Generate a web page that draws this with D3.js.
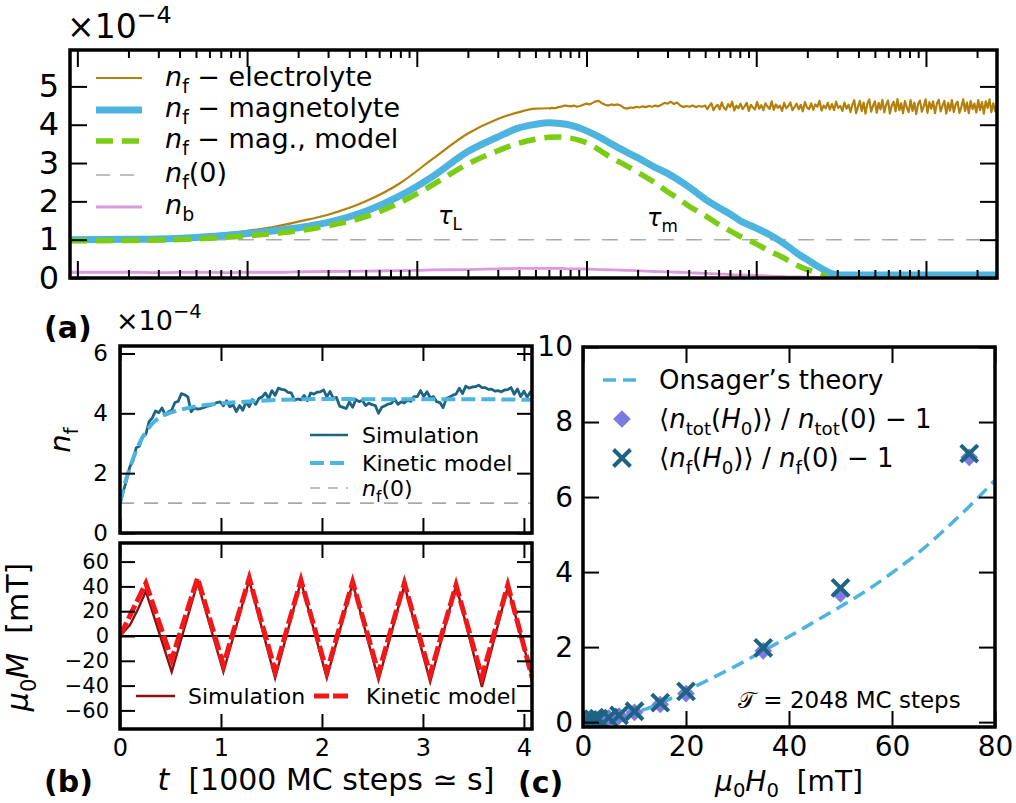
<!DOCTYPE html>
<html>
<head>
<meta charset="utf-8">
<script src="https://cdn.jsdelivr.net/npm/d3@7"></script>
<style>
  body { margin: 0; background: #fff; }
  svg { font-family: "DejaVu Sans", sans-serif; }
  text { white-space: pre; }
</style>
</head>
<body>
<svg id="fig" width="1016" height="803"></svg>
<script>
// ---------------- panel (a): free / bound densities vs. time (log) ----------------
// time samples in MC steps
const tA = [0.905, 2, 3, 5, 8, 10, 15, 20, 30, 50, 80, 125, 200, 300, 400, 500, 600, 700, 800, 900,
  1000, 1200, 1400, 1700, 2000, 2500, 3000, 3500, 4000, 5000, 6000, 7000, 8000, 10000, 12000, 14000,
  16000, 18000, 20000, 22000, 24000, 26000, 28000, 30000, 35000, 40000, 60000, 100000, 160000, 262144];
// n_f, magnetolyte (x1e-4)
const nfMagneto = [1.0, 1.01, 1.02, 1.06, 1.12, 1.16, 1.24, 1.31, 1.45, 1.74, 2.15, 2.66, 3.3, 3.68, 3.92, 4.01, 4.05, 4.03, 3.99, 3.92,
  3.84, 3.67, 3.5, 3.3, 3.14, 2.9, 2.73, 2.55, 2.38, 2.06, 1.84, 1.67, 1.5, 1.3, 1.13, 0.95,
  0.77, 0.6, 0.48, 0.36, 0.26, 0.17, 0.11, 0.08, 0.08, 0.08, 0.08, 0.08, 0.08, 0.08];
// n_f, magnetolyte model (ends where it reaches zero)
const nfModel = [0.97, 0.98, 0.99, 1.02, 1.07, 1.1, 1.17, 1.23, 1.36, 1.6, 1.97, 2.44, 2.98, 3.32, 3.52, 3.62, 3.67, 3.68, 3.65, 3.6,
  3.53, 3.33, 3.14, 2.94, 2.76, 2.5, 2.25, 2.06, 1.88, 1.63, 1.4, 1.23, 1.09, 0.89, 0.7, 0.56,
  0.42, 0.3, 0.22, 0.16, 0.1, 0.03, null, null, null, null, null, null, null, null];
// n_b
const nbValues = [0.15, 0.15, 0.14, 0.15, 0.14, 0.15, 0.15, 0.16, 0.17, 0.18, 0.19, 0.21, 0.22, 0.24, 0.25, 0.25, 0.25, 0.25, 0.24, 0.24,
  0.23, 0.22, 0.21, 0.2, 0.19, 0.17, 0.16, 0.15, 0.14, 0.12, 0.11, 0.09, 0.08, 0.07, 0.05, 0.04,
  0.03, 0.03, 0.02, 0.02, 0.01, 0.01, 0, 0, 0, 0, 0, 0, 0, 0];
// n_f, electrolyte: rising part on tA[0..16]
const nfElectroHead = [1.0, 1.02, 1.04, 1.1, 1.18, 1.23, 1.35, 1.47, 1.65, 2.0, 2.48, 3.12, 3.77, 4.15, 4.33, 4.42, 4.43];
// noisy plateau, three stretches of log-spaced samples: [t start, t end]
const electroSpanA = [600, 5000];
const nfElectroA = [
  4.42, 4.44, 4.43, 4.46, 4.47, 4.5, 4.49, 4.48, 4.5, 4.47, 4.49, 4.52, 4.55, 4.53, 4.57, 4.61, 4.62, 4.56, 4.52, 4.5,
  4.53, 4.51, 4.53, 4.5, 4.44, 4.42, 4.45, 4.44, 4.47, 4.45, 4.48, 4.46, 4.49, 4.47, 4.5, 4.48, 4.52, 4.57, 4.55, 4.6,
  4.54, 4.58, 4.5, 4.46, 4.49, 4.47, 4.5, 4.46, 4.49, 4.47, 4.5];
const electroSpanB = [5000, 35000];
const nfElectroB = [
  4.53, 4.41, 4.49, 4.56, 4.38, 4.47, 4.52, 4.40, 4.58, 4.44, 4.39, 4.54, 4.46, 4.60, 4.37, 4.50, 4.43, 4.55, 4.41, 4.48,
  4.57, 4.36, 4.52, 4.45, 4.40, 4.59, 4.42, 4.51, 4.38, 4.56, 4.47, 4.41, 4.61, 4.39, 4.53, 4.44, 4.50, 4.36, 4.57, 4.43,
  4.49, 4.58, 4.38, 4.46, 4.55, 4.40, 4.52, 4.35, 4.59, 4.45, 4.41, 4.56, 4.39, 4.53, 4.47, 4.62, 4.37, 4.50, 4.43, 4.57,
  4.40, 4.54, 4.38, 4.60, 4.44, 4.49, 4.36, 4.58, 4.42, 4.52];
const electroSpanC = [35000, 262144];
const nfElectroC = [
  4.60, 4.33, 4.52, 4.64, 4.30, 4.47, 4.62, 4.36, 4.58, 4.29, 4.55, 4.66, 4.34, 4.49, 4.61, 4.31, 4.57, 4.40, 4.65, 4.32,
  4.53, 4.63, 4.29, 4.50, 4.60, 4.35, 4.67, 4.38, 4.56, 4.30, 4.62, 4.45, 4.33, 4.64, 4.36, 4.58, 4.28, 4.54, 4.63, 4.34,
  4.48, 4.66, 4.31, 4.59, 4.42, 4.61, 4.30, 4.55, 4.65, 4.35, 4.50, 4.62, 4.29, 4.57, 4.37, 4.64, 4.33, 4.53, 4.60, 4.31,
  4.46, 4.66, 4.36, 4.58, 4.30, 4.62, 4.41, 4.55, 4.32, 4.64, 4.38, 4.59, 4.29, 4.61, 4.44, 4.66, 4.33, 4.56, 4.35, 4.60];
const nf0 = 1.0;
const yTicksA = [0, 1, 2, 3, 4, 5];

// ---------------- panel (b): periodic driving, linear time ----------------
const tMaxB = 4.096;            // 1000 MC steps
// simulated n_f, sampled every 32 MC steps
const nfSim = [1.0, 1.38, 1.75, 2.2, 2.4, 2.85, 2.9, 3.22, 3.3, 3.72, 3.85, 4.08, 4.02, 4.18, 3.95, 4.05, 4.1, 4.36, 4.4, 4.66,
  4.62, 4.55, 4.05, 4.18, 4.14, 4.16, 4.2, 4.24, 4.26, 4.31, 4.36, 4.38, 4.25, 4.42, 4.22, 4.28, 4.06, 4.26, 4.1, 4.38,
  4.22, 4.46, 4.3, 4.5, 4.55, 4.68, 4.49, 4.76, 4.6, 4.84, 4.8, 4.78, 4.7, 4.68, 4.44, 4.48, 4.45, 4.6, 4.42, 4.68,
  4.64, 4.71, 4.72, 4.78, 4.55, 4.73, 4.5, 4.53, 4.24, 4.2, 4.16, 4.38, 4.2, 4.46, 4.39, 4.44, 4.26, 4.34, 4.29, 4.26,
  4.0, 4.2, 4.25, 4.31, 4.33, 4.48, 4.3, 4.38, 4.35, 4.44, 4.4, 4.56, 4.56, 4.76, 4.56, 4.72, 4.52, 4.56, 4.39, 4.36,
  4.19, 4.5, 4.54, 4.61, 4.64, 4.84, 4.66, 4.91, 4.84, 4.88, 4.89, 4.94, 4.86, 4.86, 4.8, 4.81, 4.74, 4.76, 4.72, 4.78,
  4.79, 4.86, 4.64, 4.81, 4.56, 4.74, 4.54, 4.71, 4.6];
// kinetic model for n_f
const kinT = [0, 0.04, 0.08, 0.12, 0.16, 0.2, 0.25, 0.3, 0.35, 0.4, 0.5, 0.6, 0.7, 0.8, 1.0, 1.2, 1.4, 1.6, 1.8, 2.0, 2.5, 3.0, 3.5, 4.096];
const kinN = [1.0, 1.55, 2.0, 2.4, 2.75, 3.05, 3.35, 3.58, 3.75, 3.88, 4.02, 4.12, 4.2, 4.26, 4.33, 4.38, 4.42, 4.45, 4.47, 4.48, 4.47, 4.47, 4.47, 4.45];
// magnetization mu0 M [mT]: turning points
const magSimT = [0, 0.1, 0.18, 0.256, 0.512, 0.768, 1.024, 1.28, 1.536, 1.792, 2.048, 2.304, 2.56, 2.816, 3.072, 3.328, 3.584, 3.84, 4.096];
const magSimV = [0, 9, 22, 36, -29, 43, -29, 45, -34, 44, -34, 42.7, -35.6, 41, -37, 41, -41, 39.6, -38];
const magModT = [0, 0.256, 0.512, 0.768, 1.024, 1.28, 1.536, 1.792, 2.048, 2.304, 2.56, 2.816, 3.072, 3.328, 3.584, 3.84, 4.096];
const magModV = [0, 42.5, -19, 46.7, -23.5, 46.7, -28, 45, -29, 43.5, -30, 42.7, -31, 41, -33, 41, -38];
const xTicksB = [0, 1, 2, 3, 4];
const yTicksB1 = [0, 2, 4, 6];
const yTicksB2 = [-60, -40, -20, 0, 20, 40, 60];

// ---------------- panel (c): response vs. field amplitude ----------------
const onsH = [0, 5, 10, 15, 20, 25, 30, 35, 40, 45, 50, 55, 60, 65, 70, 75, 80];
const onsV = [0, 0.07, 0.25, 0.5, 0.83, 1.17, 1.52, 1.9, 2.28, 2.68, 3.08, 3.5, 3.98, 4.5, 5.1, 5.75, 6.45];
const fieldH = [0.5, 1, 2, 3, 5, 7, 10, 15, 20, 35, 50, 75];
const ratioTot = [0.05, 0.06, 0.07, 0.08, 0.11, 0.16, 0.26, 0.47, 0.76, 1.9, 3.42, 7.06];
const ratioF = [0.05, 0.06, 0.08, 0.09, 0.12, 0.18, 0.29, 0.52, 0.82, 1.98, 3.58, 7.16];
const xTicksC = [0, 20, 40, 60, 80];
const yTicksC = [0, 2, 4, 6, 8, 10];

// ---------------- colours ----------------
const C = {
  electro: "#b3800b", magneto: "#4db4e0", model: "#7acc14", ref: "#aaaaaa", bound: "#dd99dd",
  sim: "#1d6383", kin: "#4db4e0", magSim: "#8b1010", magMod: "#f01818",
  diamond: "#7b7be3", cross: "#1d6383"
};

const svg = d3.select("#fig");

// rich text: parts are strings or {t, i (italic), sub, sup}
function richText(g, x, y, parts, opt = {}) {
  const size = opt.size || 20;
  const subShift = opt.subShift != null ? opt.subShift : 0.26;
  const t = g.append("text").attr("x", x).attr("y", y)
    .attr("font-size", size).attr("text-anchor", opt.anchor || "start").attr("fill", "#000");
  if (opt.weight) t.attr("font-weight", opt.weight);
  if (opt.rotate) t.attr("transform", `rotate(${opt.rotate},${x},${y})`);
  let shift = 0;
  parts.forEach(p => {
    const s = typeof p === "string" ? { t: p } : p;
    const ts = t.append("tspan").text(s.t);
    let target = 0, fs = size;
    if (s.sub) { target = size * subShift; fs = size * 0.7; }
    if (s.sup) { target = -size * 0.45; fs = size * 0.72; }
    if (target !== shift) ts.attr("dy", target - shift);
    shift = target;
    ts.attr("font-size", fs);
    if (s.i) ts.attr("font-style", "italic");
  });
  return t;
}
const nf = [{ t: "n", i: 1 }, { t: "f", sub: 1 }];

// inward ticks on all four sides
function frameAxes(g, x, y, box, o) {
  const style = fs => sel => {
    sel.select(".domain").remove();
    sel.selectAll("line").attr("stroke", "#000").attr("stroke-width", 2);
    sel.selectAll("text").attr("font-size", fs).attr("fill", "#000").attr("font-family", "DejaVu Sans, sans-serif");
    sel.attr("font-size", null).attr("font-family", null);
  };
  const fmtX = o.xLabels ? (o.xFmt || d3.format("d")) : () => "";
  const xfs = o.xfs || o.fs;
  g.append("g").attr("transform", `translate(0,${box.b})`)
    .call(d3.axisBottom(x).tickValues(o.xt).tickSize(-o.len).tickPadding(o.xPad || 12).tickFormat(fmtX)).call(style(xfs));
  g.append("g").attr("transform", `translate(0,${box.t})`)
    .call(d3.axisTop(x).tickValues(o.xt).tickSize(-o.len).tickFormat(() => "")).call(style(xfs));
  g.append("g").attr("transform", `translate(${box.l},0)`)
    .call(d3.axisLeft(y).tickValues(o.yt).tickSize(-o.len).tickPadding(o.yPad || 10).tickFormat(d3.format("d"))).call(style(o.fs));
  g.append("g").attr("transform", `translate(${box.r},0)`)
    .call(d3.axisRight(y).tickValues(o.yt).tickSize(-o.len).tickFormat(() => "")).call(style(o.fs));
  if (o.minor) {
    g.append("g").attr("transform", `translate(0,${box.b})`)
      .call(d3.axisBottom(x).tickValues(o.minor).tickSize(-o.minorLen).tickFormat(() => "")).call(style(xfs));
    g.append("g").attr("transform", `translate(0,${box.t})`)
      .call(d3.axisTop(x).tickValues(o.minor).tickSize(-o.minorLen).tickFormat(() => "")).call(style(xfs));
  }
}
function frame(g, box) {
  g.append("rect").attr("x", box.l).attr("y", box.t).attr("width", box.r - box.l).attr("height", box.b - box.t)
    .attr("fill", "none").attr("stroke", "#000").attr("stroke-width", 3.5);
}
function clipFor(id, box) {
  svg.append("clipPath").attr("id", id).append("rect")
    .attr("x", box.l).attr("y", box.t).attr("width", box.r - box.l).attr("height", box.b - box.t);
  return `url(#${id})`;
}

// ================= panel (a) =================
{
  const box = { l: 70, r: 997, t: 50, b: 278 };
  const x = d3.scaleLog().domain([tA[0], tA[tA.length - 1]]).range([box.l, box.r]);
  const y = d3.scaleLinear().domain([0, 5.95]).range([box.b, box.t]);
  const g = svg.append("g");
  const data = g.append("g").attr("clip-path", clipFor("clipA", box));

  const majors = [1, 10, 100, 1e3, 1e4, 1e5];
  const minors = [];
  majors.forEach(d => { for (let k = 2; k <= 9; k++) if (d * k <= x.domain()[1]) minors.push(d * k); });

  const line = d3.line().defined(d => d[1] != null).x(d => x(d[0])).y(d => y(d[1]));
  const smooth = d3.line().defined(d => d[1] != null).x(d => x(d[0])).y(d => y(d[1])).curve(d3.curveMonotoneX);

  // reference level n_f(0)
  data.append("line").attr("x1", box.l).attr("x2", box.r).attr("y1", y(nf0)).attr("y2", y(nf0))
    .attr("stroke", C.ref).attr("stroke-width", 1.6).attr("stroke-dasharray", "16,12");

  // electrolyte: smooth rise, then the log-spaced plateau stretches
  const logSpan = (span, vals) => vals.map((v, i) =>
    [span[0] * Math.pow(span[1] / span[0], i / (vals.length - 1)), v]);
  const tailPts = [
    ...logSpan(electroSpanA, nfElectroA),
    ...logSpan(electroSpanB, nfElectroB).slice(1),
    ...logSpan(electroSpanC, nfElectroC).slice(1)
  ];
  const headPts = nfElectroHead.map((v, i) => [tA[i], v]);
  data.append("path").attr("d", smooth(headPts)).attr("fill", "none").attr("stroke", C.electro).attr("stroke-width", 2.2);
  data.append("path").attr("d", line(tailPts)).attr("fill", "none").attr("stroke", C.electro).attr("stroke-width", 2.2)
    .attr("stroke-linejoin", "round");

  data.append("path").attr("d", smooth(tA.map((t, i) => [t, nfMagneto[i]])))
    .attr("fill", "none").attr("stroke", C.magneto).attr("stroke-width", 7);
  data.append("path").attr("d", smooth(tA.map((t, i) => [t, nfModel[i]])))
    .attr("fill", "none").attr("stroke", C.model).attr("stroke-width", 5.5).attr("stroke-dasharray", "17,9");
  data.append("path").attr("d", smooth(tA.map((t, i) => [t, nbValues[i]])))
    .attr("fill", "none").attr("stroke", C.bound).attr("stroke-width", 2.8);

  frameAxes(g, x, y, box, { xt: majors, yt: yTicksA, len: 17, fs: 32, yPad: 11, minor: minors, minorLen: 8, xLabels: false });
  frame(g, box);

  // multiplier
  richText(g, 67, 38, ["×10", { t: "−4", sup: 1 }], { size: 33 });

  // time-scale annotations
  richText(g, 438, 224, [{ t: "τ", i: 1 }, { t: "L", sub: 1 }], { size: 24 });
  richText(g, 647, 226, [{ t: "τ", i: 1 }, { t: "m", sub: 1 }], { size: 24 });

  // legend
  const leg = [
    { parts: [...nf, " − electrolyte"], c: C.electro, w: 2.2, dash: null, ly: 78, ty: 86 },
    { parts: [...nf, " − magnetolyte"], c: C.magneto, w: 7, dash: null, ly: 110, ty: 117 },
    { parts: [...nf, " − mag., model"], c: C.model, w: 5.5, dash: "17,9", ly: 141, ty: 148 },
    { parts: [...nf, "(0)"], c: C.ref, w: 1.6, dash: "14,10", ly: 175, ty: 182 },
    { parts: [{ t: "n", i: 1 }, { t: "b", sub: 1 }], c: C.bound, w: 2.8, dash: null, ly: 207, ty: 214 }
  ];
  leg.forEach(d => {
    const l = g.append("line").attr("x1", 96).attr("x2", 142).attr("y1", d.ly).attr("y2", d.ly)
      .attr("stroke", d.c).attr("stroke-width", d.w);
    if (d.dash) l.attr("stroke-dasharray", d.dash);
    richText(g, 165, d.ty, d.parts, { size: 27 });
  });
}

// ================= panel (b), upper: n_f(t) =================
const xB = d3.scaleLinear().domain([0, 4.08]).range([120, 532]);
{
  const box = { l: 120, r: 532, t: 346, b: 533 };
  const y = d3.scaleLinear().domain([0, 6.25]).range([box.b, box.t]);
  const g = svg.append("g");
  const data = g.append("g").attr("clip-path", clipFor("clipB1", box));
  const dt = tMaxB / (nfSim.length - 1);

  data.append("line").attr("x1", box.l).attr("x2", box.r).attr("y1", y(nf0)).attr("y2", y(nf0))
    .attr("stroke", C.ref).attr("stroke-width", 1.6).attr("stroke-dasharray", "14,10");
  data.append("path").attr("d", d3.line().x((d, i) => xB(i * dt)).y(d => y(d))(nfSim))
    .attr("fill", "none").attr("stroke", C.sim).attr("stroke-width", 2.8).attr("stroke-linejoin", "round");
  data.append("path").attr("d", d3.line().x((d, i) => xB(kinT[i])).y(d => y(d)).curve(d3.curveMonotoneX)(kinN))
    .attr("fill", "none").attr("stroke", C.kin).attr("stroke-width", 4).attr("stroke-dasharray", "14,6");

  frameAxes(g, xB, y, box, { xt: xTicksB, yt: yTicksB1, len: 15, fs: 23, yPad: 12, xLabels: false });
  frame(g, box);

  richText(g, 116, 330, ["×10", { t: "−4", sup: 1 }], { size: 27 });
  richText(g, 70, 440, nf, { size: 29, anchor: "middle", rotate: -90 });

  const leg = [
    { parts: ["Simulation"], c: C.sim, w: 2.6, dash: null, ly: 435 },
    { parts: ["Kinetic model"], c: C.kin, w: 4, dash: "14,6", ly: 463 },
    { parts: [...nf, "(0)"], c: C.ref, w: 1.6, dash: "10,8", ly: 488 }
  ];
  leg.forEach(d => {
    const l = g.append("line").attr("x1", 310).attr("x2", 348).attr("y1", d.ly).attr("y2", d.ly)
      .attr("stroke", d.c).attr("stroke-width", d.w);
    if (d.dash) l.attr("stroke-dasharray", d.dash);
    richText(g, 362, d.ly + 8, d.parts, { size: 22 });
  });
}

// ================= panel (b), lower: magnetization =================
{
  const box = { l: 120, r: 532, t: 543, b: 729 };
  const y = d3.scaleLinear().domain([-75, 75]).range([box.b, box.t]);
  const g = svg.append("g");
  const data = g.append("g").attr("clip-path", clipFor("clipB2", box));

  data.append("line").attr("x1", box.l).attr("x2", box.r).attr("y1", y(0)).attr("y2", y(0))
    .attr("stroke", "#000").attr("stroke-width", 2);
  data.append("path").attr("d", d3.line().x((d, i) => xB(magSimT[i])).y(d => y(d))(magSimV))
    .attr("fill", "none").attr("stroke", C.magSim).attr("stroke-width", 2.4);
  data.append("path").attr("d", d3.line().x((d, i) => xB(magModT[i])).y(d => y(d))(magModV))
    .attr("fill", "none").attr("stroke", C.magMod).attr("stroke-width", 5).attr("stroke-dasharray", "15,4");

  // crowded y labels are set a little smaller than the time labels
  frameAxes(g, xB, y, box, { xt: xTicksB, yt: yTicksB2, len: 15, fs: 21, xfs: 24, yPad: 11, xPad: 10, xLabels: true });
  frame(g, box);

  richText(g, 28, 637, [{ t: "μ", i: 1 }, { t: "0", sub: 1 }, { t: "M", i: 1 }, "  [mT]"], { size: 30, anchor: "middle", rotate: -90 });
  richText(g, 326, 790, [{ t: "t", i: 1 }, "  [1000 MC steps ≃ s]"], { size: 30, anchor: "middle" });

  g.append("line").attr("x1", 136).attr("x2", 175).attr("y1", 696).attr("y2", 696).attr("stroke", C.magSim).attr("stroke-width", 2.4);
  richText(g, 188, 704, ["Simulation"], { size: 22 });
  g.append("line").attr("x1", 314).attr("x2", 352).attr("y1", 696).attr("y2", 696).attr("stroke", C.magMod)
    .attr("stroke-width", 5).attr("stroke-dasharray", "15,4");
  richText(g, 366, 704, ["Kinetic model"], { size: 22 });
}

// ================= panel (c) =================
{
  const box = { l: 583, r: 995, t: 347, b: 727 };
  const x = d3.scaleLinear().domain([0, 80]).range([box.l, box.r]);
  const y = d3.scaleLinear().domain([-0.13, 10]).range([box.b, box.t]);
  const g = svg.append("g");
  const data = g.append("g").attr("clip-path", clipFor("clipC", box));

  data.append("path").attr("d", d3.line().x((d, i) => x(onsH[i])).y(d => y(d)).curve(d3.curveMonotoneX)(onsV))
    .attr("fill", "none").attr("stroke", C.kin).attr("stroke-width", 3.5).attr("stroke-dasharray", "13,7");

  const diamond = d3.symbol().type(d3.symbolDiamond2).size(200);
  const cross = d3.symbol().type(d3.symbolX).size(190);
  data.selectAll(".dia").data(fieldH).join("path")
    .attr("d", diamond).attr("transform", (d, i) => `translate(${x(d)},${y(ratioTot[i])})`)
    .attr("fill", C.diamond).attr("stroke", "none");
  data.selectAll(".crs").data(fieldH).join("path")
    .attr("d", cross).attr("transform", (d, i) => `translate(${x(d)},${y(ratioF[i])})`)
    .attr("fill", "none").attr("stroke", C.cross).attr("stroke-width", 4);

  frameAxes(g, x, y, box, { xt: xTicksC, yt: yTicksC, len: 16, fs: 28, yPad: 10, xPad: 9, xLabels: true });
  frame(g, box);

  richText(g, 789, 791, [{ t: "μ", i: 1 }, { t: "0", sub: 1 }, { t: "H", i: 1 }, { t: "0", sub: 1 }, "  [mT]"],
    { size: 28, anchor: "middle", subShift: 0.2 });
  richText(g, 738, 708, [{ t: "𝒯", i: 0 }, " = 2048 MC steps"], { size: 23 });

  // legend
  g.append("line").attr("x1", 603).attr("x2", 641).attr("y1", 380).attr("y2", 380).attr("stroke", C.kin)
    .attr("stroke-width", 3.5).attr("stroke-dasharray", "13,7");
  richText(g, 659, 389, ["Onsager’s theory"], { size: 26 });
  g.append("path").attr("d", diamond).attr("transform", "translate(622,419)").attr("fill", C.diamond);
  richText(g, 659, 428, ["⟨", { t: "n", i: 1 }, { t: "tot", sub: 1 }, "(", { t: "H", i: 1 }, { t: "0", sub: 1 }, ")⟩ / ",
    { t: "n", i: 1 }, { t: "tot", sub: 1 }, "(0) − 1"], { size: 26 });
  g.append("path").attr("d", cross).attr("transform", "translate(622,458)").attr("fill", "none")
    .attr("stroke", C.cross).attr("stroke-width", 4);
  richText(g, 659, 467, ["⟨", ...nf, "(", { t: "H", i: 1 }, { t: "0", sub: 1 }, ")⟩ / ", ...nf, "(0) − 1"], { size: 26 });
}

// panel letters
richText(svg, 44, 338, ["(a)"], { size: 30, weight: "bold" });
richText(svg, 44, 792, ["(b)"], { size: 30, weight: "bold" });
richText(svg, 518, 793, ["(c)"], { size: 30, weight: "bold" });
</script>
</body>
</html>
